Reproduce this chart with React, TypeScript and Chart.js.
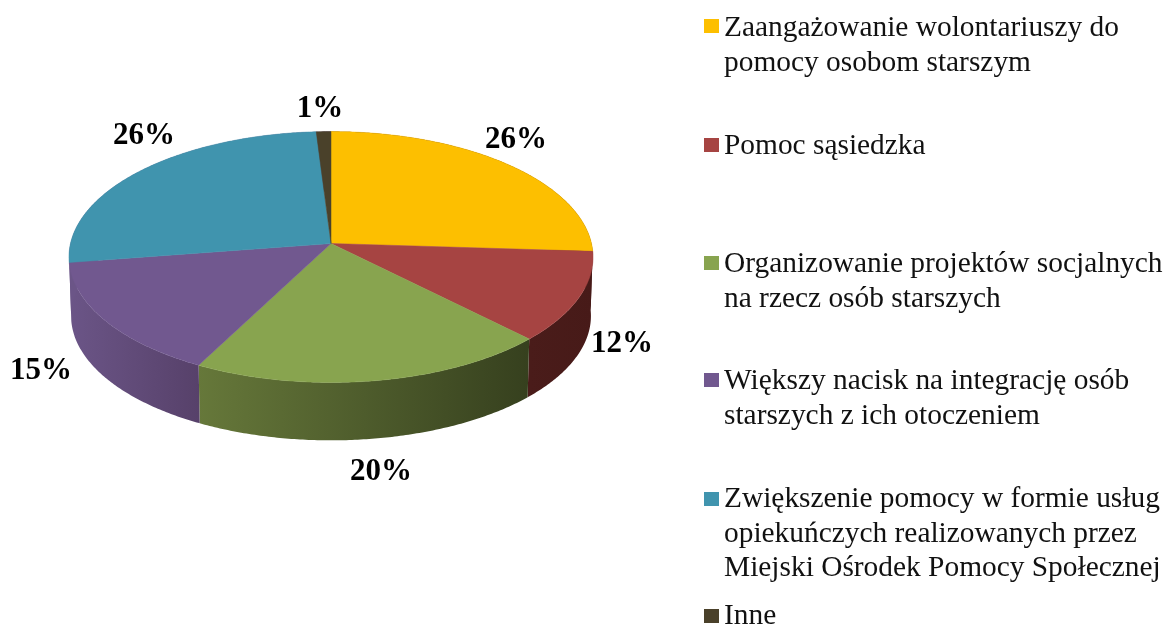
import React, { useEffect, useRef } from "react";
import { Chart, registerables } from "chart.js";

Chart.register(...registerables);

const categories: string[][] = [
  ["Zaangażowanie wolontariuszy do", "pomocy osobom starszym"],
  ["Pomoc sąsiedzka"],
  ["Organizowanie projektów socjalnych", "na rzecz osób starszych"],
  ["Większy nacisk na integrację osób", "starszych z ich otoczeniem"],
  ["Zwiększenie pomocy w formie usług", "opiekuńczych realizowanych przez", "Miejski Ośrodek Pomocy Społecznej"],
  ["Inne"],
];
const values = [26.0, 11.6, 20.0, 15.0, 26.4, 1.0];
const colors = ["#FDBF00", "#A64442", "#88A44F", "#71588F", "#4094AE", "#4A412A"];
const sideLeft = ["#4a1c1a", "#4a1c1a", "#66783A", "#6B5587", "#6B5587", "#6B5587"];
const sideRight = ["#4a1c1a", "#471a18", "#36401E", "#57416A", "#6B5587", "#6B5587"];

// layout constants (geometry of the tilted disc and text placement)
const CX = 331, CY = 243.5, RX = 260.5, RY = 124, K = 0.1076, DEPTH = 59;
const LEGEND_BASELINES = [[36, 71], [154], [272, 307], [389, 424], [507, 542, 576], [624]];
const MARKER_TOPS = [19, 138, 256, 373, 492, 609];
const LABEL_CENTERS: [number, number][] = [[516, 140], [622, 344], [381, 472], [41, 371], [144, 136], [320, 109]];

function project(a: number, lower: boolean): [number, number] {
  const u = Math.cos(a), v = Math.sin(a), w = 1 - K * v;
  const s = lower ? 0.992 : 1;
  return [CX + (RX * s * u) / w, CY + (lower ? DEPTH : 0) + (RY * s * v) / w];
}

const disc3d = {
  id: "disc3d",
  beforeDatasetDraw(chart: any) {
    const ctx: CanvasRenderingContext2D = chart.ctx;
    const arcs = chart.getDatasetMeta(0).data;
    const step = 0.01;
    // side walls
    arcs.forEach((arc: any, i: number) => {
      const { startAngle: a0, endAngle: a1 } = arc;
      const pts0 = project(a0, false), pts1 = project(a1, false);
      const g = ctx.createLinearGradient(Math.min(pts0[0], pts1[0]), 0, Math.max(pts0[0], pts1[0]), 0);
      g.addColorStop(0, sideLeft[i]);
      g.addColorStop(1, sideRight[i]);
      ctx.beginPath();
      for (let a = a0; a < a1; a += step) ctx.lineTo(...project(a, false));
      ctx.lineTo(...project(a1, false));
      for (let a = a1; a > a0; a -= step) ctx.lineTo(...project(a, true));
      ctx.lineTo(...project(a0, true));
      ctx.closePath();
      ctx.fillStyle = g;
      ctx.fill();
    });
    // top face
    arcs.forEach((arc: any, i: number) => {
      const { startAngle: a0, endAngle: a1 } = arc;
      ctx.beginPath();
      ctx.moveTo(CX, CY);
      for (let a = a0; a < a1; a += step) ctx.lineTo(...project(a, false));
      ctx.lineTo(...project(a1, false));
      ctx.closePath();
      ctx.fillStyle = colors[i];
      ctx.strokeStyle = colors[i];
      ctx.lineWidth = 0.5;
      ctx.fill();
      ctx.stroke();
    });
    return false;
  },
  afterDraw(chart: any) {
    const ctx: CanvasRenderingContext2D = chart.ctx;
    const data: number[] = chart.data.datasets[0].data;
    const total = data.reduce((p, c) => p + c, 0);
    ctx.save();
    ctx.textAlign = "center";
    ctx.textBaseline = "middle";
    ctx.fillStyle = "#000";
    ctx.font = 'bold 31px "Liberation Serif"';
    data.forEach((d, i) => {
      ctx.fillText(`${Math.round((d / total) * 100)}%`, LABEL_CENTERS[i][0], LABEL_CENTERS[i][1]);
    });
    ctx.textAlign = "left";
    ctx.textBaseline = "alphabetic";
    ctx.font = '29.4px "Liberation Serif"';
    chart.data.labels.forEach((lines: string[], i: number) => {
      ctx.fillStyle = colors[i];
      ctx.fillRect(704, MARKER_TOPS[i], 15, 14);
      ctx.fillStyle = "#111";
      lines.forEach((t, j) => ctx.fillText(t, 724, LEGEND_BASELINES[i][j]));
    });
    ctx.restore();
  },
};

export default function App() {
  const ref = useRef<HTMLCanvasElement>(null);
  useEffect(() => {
    const chart = new Chart(ref.current as HTMLCanvasElement, {
      type: "pie",
      data: {
        labels: categories as any,
        datasets: [{ data: values, backgroundColor: colors, borderWidth: 0 }],
      },
      options: {
        responsive: false,
        animation: false,
        plugins: { legend: { display: false }, tooltip: { enabled: false } },
      },
      plugins: [disc3d as any],
    });
    return () => chart.destroy();
  }, []);
  return (
    <div style={{ position: "fixed", left: 0, top: 0, width: 1169, height: 625, background: "#fff" }}>
      <canvas ref={ref} width={1169} height={625} style={{ display: "block", filter: "blur(0.4px)" }} />
    </div>
  );
}
